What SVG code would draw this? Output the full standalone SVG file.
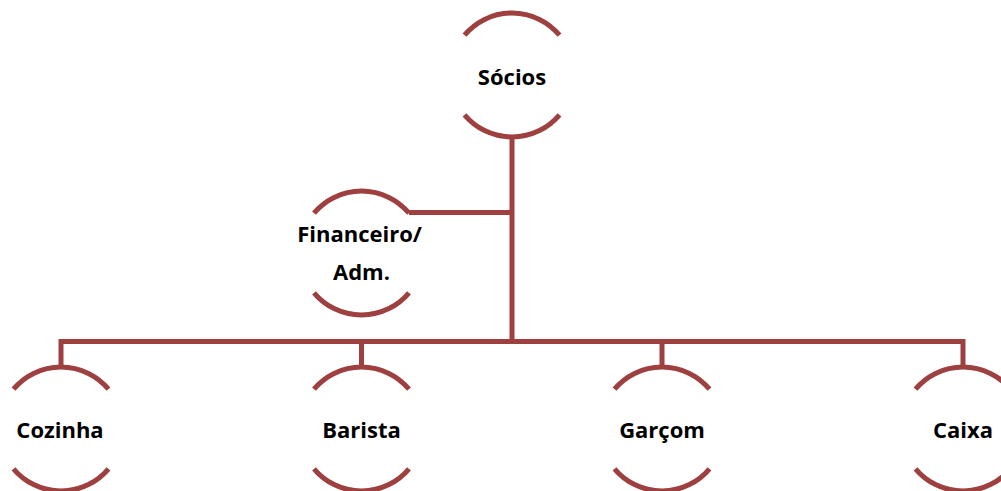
<svg xmlns="http://www.w3.org/2000/svg" width="1001" height="491" viewBox="0 0 1001 491">
<defs>
<style>
.arc{fill:none;stroke:#9E403F;stroke-width:5;}
.conn{fill:none;stroke:#9E403F;stroke-width:5;stroke-linejoin:miter;}
.lbl{font-family:"Open Sans","Liberation Sans",sans-serif;font-weight:700;font-size:22px;fill:#000;text-anchor:middle;}
</style>
<g id="nodeShape">
<path class="arc" d="M-47.5 -39.85 A62 62 0 0 1 47.5 -39.85"/>
<path class="arc" d="M-47.5 39.85 A62 62 0 0 0 47.5 39.85"/>
</g>
</defs>
<rect width="1001" height="491" fill="#fff"/>
<g id="connectors">
<path class="conn" d="M512 136 V341.5"/>
<path class="conn" d="M409 212.5 H512"/>
<path class="conn" d="M61 369 V341.5 H963 V369"/>
<path class="conn" d="M361.5 341.5 V369"/>
<path class="conn" d="M662 341.5 V369"/>
</g>
<g id="socios" transform="translate(512,75)">
<use href="#nodeShape"/>
<text class="lbl" x="0" y="10">Sócios</text>
</g>
<g id="financeiro" transform="translate(361.5,253)">
<use href="#nodeShape"/>
<text class="lbl" x="-2" y="-11">Financeiro/</text>
<text class="lbl" x="0" y="27">Adm.</text>
</g>
<g id="cozinha" transform="translate(61,429)">
<use href="#nodeShape"/>
<text class="lbl" x="-1" y="9">Cozinha</text>
</g>
<g id="barista" transform="translate(361.5,429)">
<use href="#nodeShape"/>
<text class="lbl" x="0" y="9">Barista</text>
</g>
<g id="garcom" transform="translate(662,429)">
<use href="#nodeShape"/>
<text class="lbl" x="0" y="9">Garçom</text>
</g>
<g id="caixa" transform="translate(963,429)">
<use href="#nodeShape"/>
<text class="lbl" x="0" y="9">Caixa</text>
</g>
</svg>
